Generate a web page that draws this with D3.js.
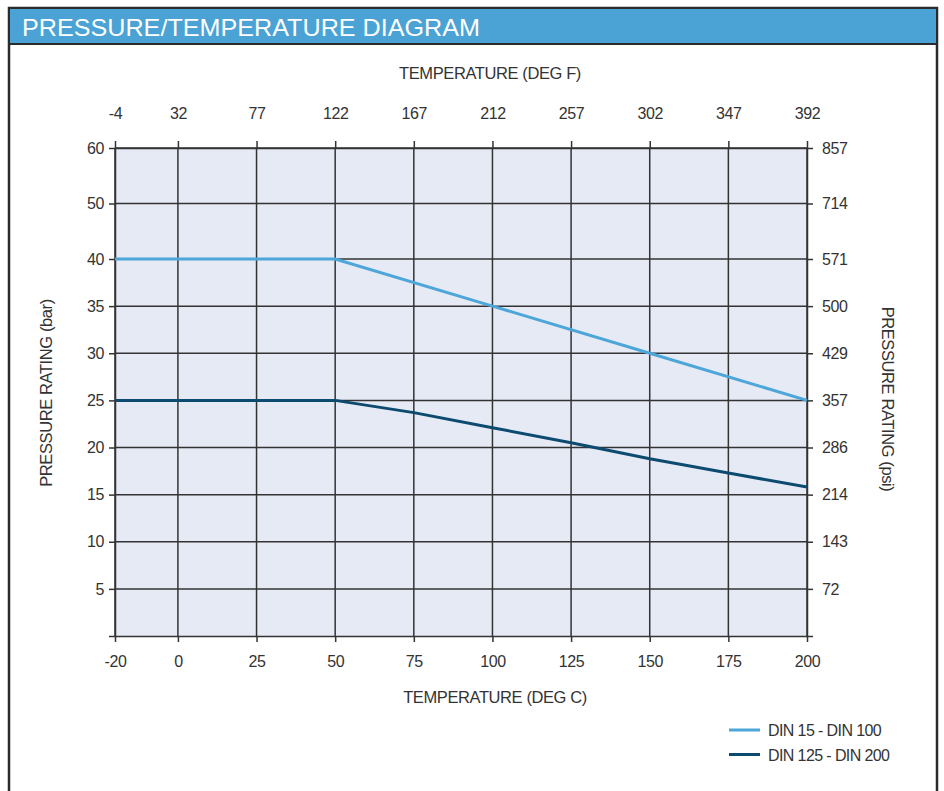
<!DOCTYPE html>
<html>
<head>
  <meta charset="utf-8">
  <title>Pressure/Temperature Diagram</title>
  <script src="https://d3js.org/d3.v7.min.js"></script>
  <style>
    body { margin: 0; background: #fff; }
    text { font-family: "Liberation Sans", Arial, sans-serif; }
  </style>
</head>
<body>
<div id="chart"></div>
<script>

// Data
const tempC = [-20, 0, 25, 50, 75, 100, 125, 150, 175, 200];
const tempF = ["-4", "32", "77", "122", "167", "212", "257", "302", "347", "392"];
const barTicks = [5, 10, 15, 20, 25, 30, 35, 40, 50, 60];
const psiTicks = ["72", "143", "214", "286", "357", "429", "500", "571", "714", "857"];

const seriesNames = ["DIN 15 - DIN 100", "DIN 125 - DIN 200"];
const seriesColors = ["#4da6d9", "#0d4a6f"];
const lightLine = [[-20, 40], [50, 40], [100, 35], [150, 30], [200, 25]];
const darkLine = [[-20, 25], [50, 25], [75, 23.7], [100, 22.1], [125, 20.5], [150, 18.8], [175, 17.3], [200, 15.8]];

const W = 944, H = 791;
const svg = d3.select("#chart").append("svg")
  .attr("width", W).attr("height", H);

// Frame and title bar
svg.append("rect")
  .attr("x", 9).attr("y", 8).attr("width", 928).attr("height", H)
  .attr("fill", "#fff").attr("stroke", "#2b2b2b").attr("stroke-width", 2.5);
svg.append("rect")
  .attr("x", 10).attr("y", 9).attr("width", 926).attr("height", 35)
  .attr("fill", "#4ba2d4");
svg.append("line")
  .attr("x1", 9).attr("x2", 937).attr("y1", 44).attr("y2", 44)
  .attr("stroke", "#2b2b2b").attr("stroke-width", 2);
svg.append("text")
  .attr("x", 22).attr("y", 36)
  .attr("fill", "#fff")
  .attr("font-size", 24)
  .attr("textLength", 458)
  .attr("lengthAdjust", "spacingAndGlyphs")
  .text("PRESSURE/TEMPERATURE  DIAGRAM");

// Scales (y is broken above 40 bar)
const x = d3.scaleLinear().domain([-20, 200]).range([115, 807]);
const y = d3.scaleLinear().domain([0, 40, 60]).range([636, 259, 148]);

// Plot background
svg.append("rect")
  .attr("x", x(-20)).attr("y", y(60))
  .attr("width", x(200) - x(-20)).attr("height", y(0) - y(60))
  .attr("fill", "#e6eaf5");

const gridColor = "#333";

// Grid lines
svg.append("g").selectAll("line").data(tempC).join("line")
  .attr("x1", d => x(d)).attr("x2", d => x(d))
  .attr("y1", y(60)).attr("y2", y(0))
  .attr("stroke", gridColor).attr("stroke-width", 1.5);
svg.append("g").selectAll("line").data(barTicks).join("line")
  .attr("x1", x(-20)).attr("x2", x(200))
  .attr("y1", d => y(d)).attr("y2", d => y(d))
  .attr("stroke", gridColor).attr("stroke-width", 1.5);

// Axes
function styleAxis(g) {
  g.select(".domain").attr("stroke", gridColor).attr("stroke-width", 1.5);
  g.selectAll(".tick line").attr("stroke", gridColor).attr("stroke-width", 1.5);
  g.selectAll(".tick text").attr("fill", "#333").attr("font-size", 16)
    .attr("letter-spacing", -0.4)
    .attr("font-family", "'Liberation Sans', Arial, sans-serif");
}

svg.append("g")
  .attr("transform", `translate(0,${y(0)})`)
  .call(d3.axisBottom(x).tickValues(tempC).tickSize(6).tickPadding(14).tickSizeOuter(0)
    .tickFormat(d => String(d)))
  .call(styleAxis);

svg.append("g")
  .attr("transform", `translate(0,${y(60)})`)
  .call(d3.axisTop(x).tickValues(tempC).tickSize(7).tickPadding(22).tickSizeOuter(0)
    .tickFormat((d, i) => tempF[i]))
  .call(styleAxis);

svg.append("g")
  .attr("transform", `translate(${x(-20)},0)`)
  .call(d3.axisLeft(y).tickValues([0].concat(barTicks)).tickSize(6).tickPadding(5).tickSizeOuter(0)
    .tickFormat(d => d === 0 ? "" : String(d)))
  .call(styleAxis);

svg.append("g")
  .attr("transform", `translate(${x(200)},0)`)
  .call(d3.axisRight(y).tickValues([0].concat(barTicks)).tickSize(6).tickPadding(9).tickSizeOuter(0)
    .tickFormat(d => d === 0 ? "" : psiTicks[barTicks.indexOf(d)]))
  .call(styleAxis);

// Axis titles
function title(sel) {
  return sel.attr("text-anchor", "middle").attr("font-size", 16.5)
    .attr("letter-spacing", -0.4).attr("fill", "#333");
}
svg.append("text").call(title)
  .attr("x", 490).attr("y", 79)
  .text("TEMPERATURE (DEG F)");
svg.append("text").call(title)
  .attr("x", 495).attr("y", 703)
  .text("TEMPERATURE (DEG C)");
svg.append("text").call(title)
  .attr("transform", "translate(52,393) rotate(-90)")
  .text("PRESSURE RATING (bar)");
svg.append("text").call(title)
  .attr("transform", "translate(882,399) rotate(90)")
  .text("PRESSURE RATING (psi)");

// Lines
const line = d3.line().x(d => x(d[0])).y(d => y(d[1]));
[lightLine, darkLine].forEach((s, i) => {
  svg.append("path")
    .attr("d", line(s))
    .attr("fill", "none")
    .attr("stroke", seriesColors[i])
    .attr("stroke-width", 3);
});

// Legend
const legend = svg.append("g").attr("transform", "translate(729,730)");
seriesNames.forEach((name, i) => {
  const g = legend.append("g").attr("transform", `translate(0,${i * 24.5})`);
  g.append("line")
    .attr("x1", 0).attr("x2", 31).attr("y1", 0).attr("y2", 0)
    .attr("stroke", seriesColors[i]).attr("stroke-width", 3);
  g.append("text")
    .attr("x", 39).attr("y", 6)
    .attr("font-size", 16).attr("fill", "#333")
    .attr("letter-spacing", -0.6)
    .text(name);
});

</script>
</body>
</html>
